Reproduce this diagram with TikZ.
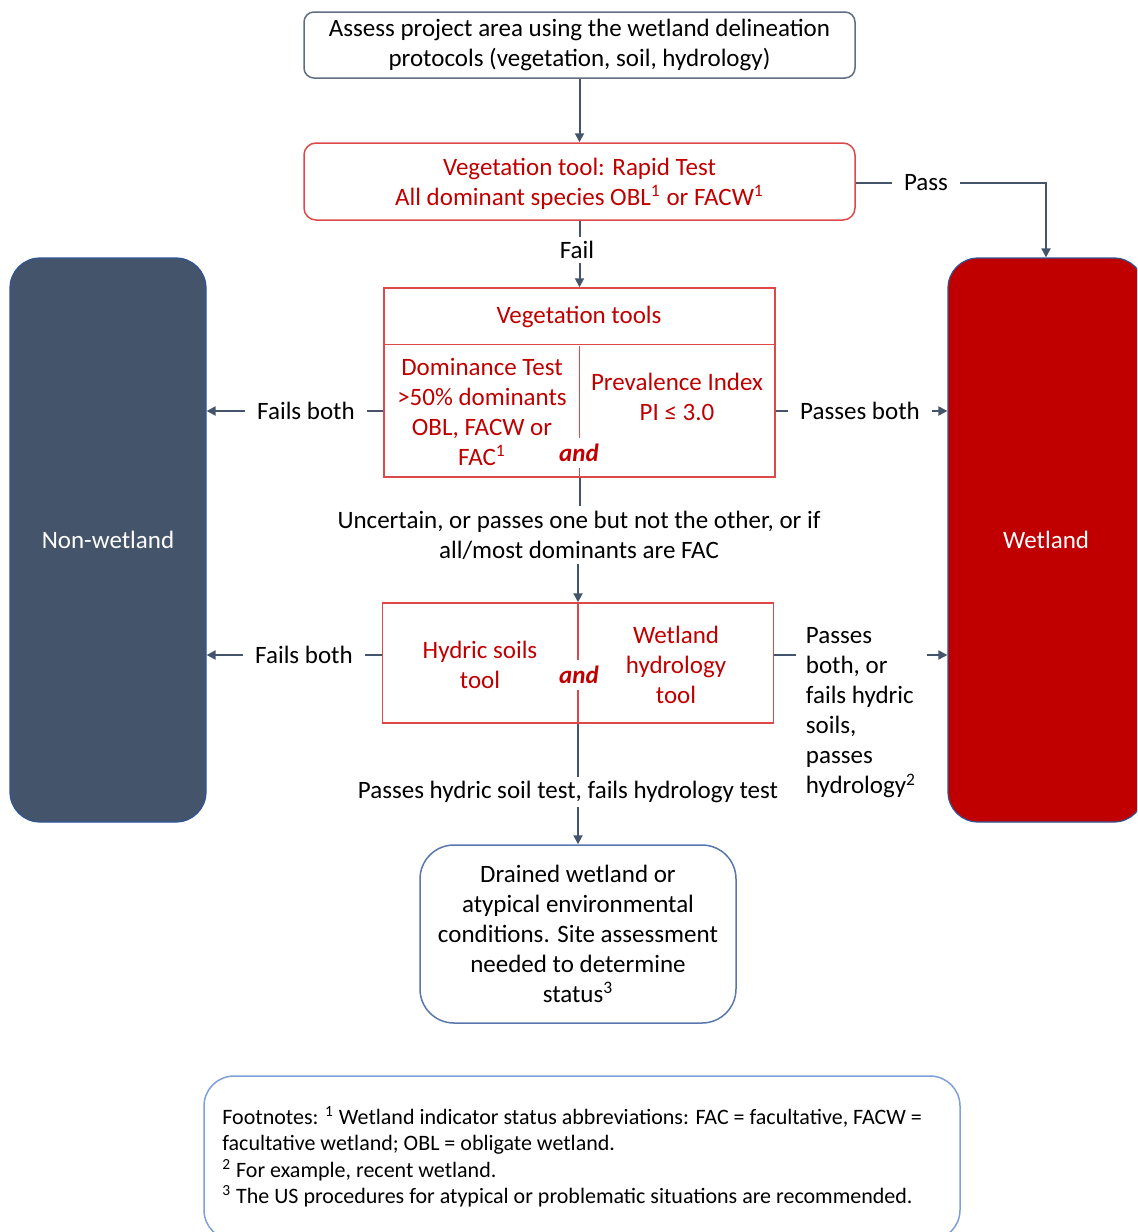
\documentclass[tikz,border=0pt]{standalone}
\usepackage{fontspec}
\setmainfont{Carlito}
\usetikzlibrary{arrows.meta}

\definecolor{slate}{HTML}{44546A}
\definecolor{wetred}{HTML}{C00000}
\definecolor{edgered}{RGB}{221,72,72}
\definecolor{edgeblue}{HTML}{2F5597}
\definecolor{noteblue}{HTML}{7F9FD8}

\tikzset{
    every node/.style={font=\fontsize{12.5}{15}\selectfont},
    link/.style={draw=slate, line width=1pt},
    flow/.style={link, -{Triangle[length=4.5pt, width=4.5pt]}},
    lbl/.style={fill=white, inner xsep=6pt, inner ysep=2pt, align=center},
    grybox/.style={draw=slate!85, line width=0.75pt, rounded corners=5pt, align=center},
    redbox/.style={draw=edgered, line width=0.75pt, text=wetred, align=center},
    redtxt/.style={text=wetred, align=center},
    andtxt/.style={text=wetred, fill=white, inner sep=3pt, font=\fontsize{12.5}{15}\selectfont\bfseries\itshape},
    endbox/.style={fill=#1, draw=edgeblue, line width=0.6pt, rounded corners=15pt, text=white, minimum width=98pt, minimum height=282pt}
}

\begin{document}
\begin{tikzpicture}[x=0.5pt, y=-0.5pt]
    \useasboundingbox (0,0) rectangle (1137,1232);
    \clip (0,0) rectangle (1137,1232);

    % outcome boxes
    \node[endbox=slate] at (108, 540)  (nonwet) {Non-wetland};
    \node[endbox=wetred] at (1046, 540)  (wet) {Wetland};

    % steps
    \node[grybox, minimum width=275.5pt, minimum height=33pt] at (579.5, 45)  (assess) {Assess project area using the wetland delineation\\protocols (vegetation, soil, hydrology)};
    \node[redbox, rounded corners=6pt, minimum width=275.5pt, minimum height=38.5pt] at (579.5, 181.5)  (rapid) {};
    \node[redtxt] at (579.5, 184)  (rapidtxt) {Vegetation tool: Rapid Test\\All dominant species OBL\textsuperscript{1} or FACW\textsuperscript{1}};

    \node[redbox, minimum width=195.5pt, minimum height=94.5pt] at (579.5, 382.5)  (vegtools) {};
    \draw[edgered, line width=0.75pt] ([yshift=-28.5pt]vegtools.north west) -- ([yshift=-28.5pt]vegtools.north east);
    \draw[edgered, line width=0.75pt] (vegtools.south) -- ++(0, -132);
    \node[redtxt] at (579, 317)  (veghead) {Vegetation tools};
    \node[redtxt] at (482, 412)  (domtest) {Dominance Test\\>50\% dominants\\OBL, FACW or\\FAC\textsuperscript{1}};
    \node[redtxt] at (677, 397)  (previdx) {Prevalence Index\\PI ≤ 3.0};
    \node[andtxt] at (579, 453)  (andveg) {and};

    \node[redbox, minimum width=195.5pt, minimum height=60pt] at (578, 663)  (soilhyd) {};
    \draw[edgered, line width=0.75pt] (soilhyd.north) -- (soilhyd.south);
    \node[redtxt] at (480, 665)  (hydsoil) {Hydric soils\\tool};
    \node[redtxt] at (676, 665)  (wethyd) {Wetland\\hydrology\\tool};
    \node[andtxt] at (579, 675)  (andsoil) {and};

    \node[grybox, draw=edgeblue!80, rounded corners=17pt, minimum width=158pt, minimum height=89pt] at (578, 934)  (drained) {Drained wetland or\\atypical environmental\\conditions. Site assessment\\needed to determine\\status\textsuperscript{3}};

    % labels
    \node[lbl] at (926, 183)  (pass)  {Pass};
    \node[lbl] at (577, 250)  (fail)  {Fail};
    \node[lbl] at (306, 411)  (failveg)  {Fails both};
    \node[lbl] at (860, 411)  (passveg)  {Passes both};
    \node[lbl] at (579, 535)  (uncert)  {Uncertain, or passes one but not the other, or if\\all/most dominants are FAC};
    \node[lbl] at (304, 655)  (failsoil)  {Fails both};
    \node[lbl, align=left, inner xsep=5pt] at (861, 713)  (passsoil)  {Passes\\both, or\\fails hydric\\soils,\\passes\\hydrology\textsuperscript{2}};
    \node[lbl] at (568, 792)  (hydonly)  {Passes hydric soil test, fails hydrology test};

    % connectors
    \draw[flow] (assess) -- (rapid);
    \draw[link] (rapid.east |- pass) -- (pass.west);
    \draw[flow] (pass.east) -| (wet.north);
    \draw[link] (rapid.south) -- (rapid.south |- fail.north);
    \draw[flow] (vegtools.north |- fail.south) -- (vegtools.north);

    \draw[link] (vegtools.west |- failveg) -- (failveg.east);
    \draw[flow] (failveg.west) -- (nonwet.east |- failveg);
    \draw[link] (vegtools.east |- passveg) -- (passveg.west);
    \draw[flow] (passveg.east) -- (wet.west |- passveg);

    \draw[link] (vegtools.south) -- (vegtools.south |- uncert.north);
    \draw[flow] (soilhyd.north |- uncert.south) -- (soilhyd.north);

    \draw[link] (soilhyd.west |- failsoil) -- (failsoil.east);
    \draw[flow] (failsoil.west) -- (nonwet.east |- failsoil);
    \draw[link] (soilhyd.east |- failsoil) -- (passsoil.west |- failsoil);
    \draw[flow] (passsoil.east |- failsoil) -- (wet.west |- failsoil);

    \draw[link] (soilhyd.south) -- (soilhyd.south |- hydonly.north);
    \draw[flow] (soilhyd.south |- hydonly.south) -- (drained.north);

    % footnotes
    \node[draw=noteblue, line width=0.75pt, rounded corners=15pt, minimum width=378pt, minimum height=82pt] at (582, 1158)  (notebox) {};
    \node[anchor=west, align=left, inner sep=0pt, font=\fontsize{11}{13.25}\selectfont] at (222, 1157)  (notes) {Footnotes: \textsuperscript{1} Wetland indicator status abbreviations: FAC = facultative, FACW =\\facultative wetland; OBL = obligate wetland.\\\textsuperscript{2} For example, recent wetland.\\\textsuperscript{3} The US procedures for atypical or problematic situations are recommended.};
\end{tikzpicture}
\end{document}
